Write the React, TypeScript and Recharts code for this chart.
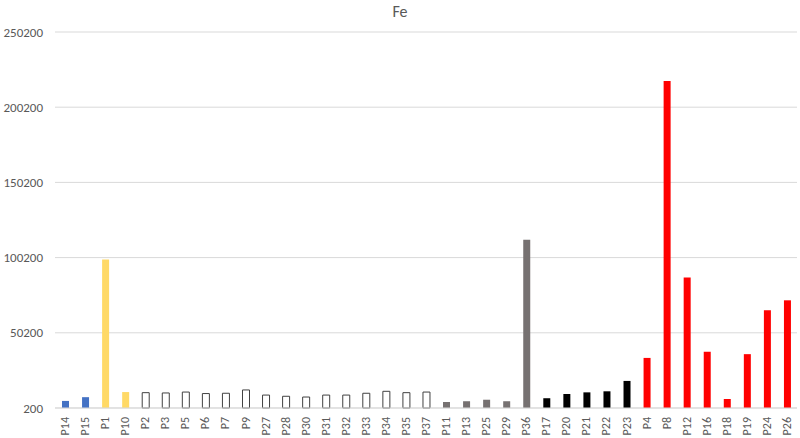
import { BarChart, Bar, XAxis, YAxis, CartesianGrid, Cell } from "recharts";

// ==========================================
// DATA
// ==========================================
const categories = [
  "P14", "P15", "P1", "P10", "P2", "P3", "P5", "P6", "P7", "P9",
  "P27", "P28", "P30", "P31", "P32", "P33", "P34", "P35", "P37",
  "P11", "P13", "P25", "P29", "P36",
  "P17", "P20", "P21", "P22", "P23",
  "P4", "P8", "P12", "P16", "P18", "P19", "P24", "P26",
];

const feValues = [
  4900, 7400, 99000, 10800, 10400, 10200, 10800, 9800, 10000, 12200,
  8800, 8000, 7500, 8800, 8800, 10000, 11300, 10400, 10800,
  4200, 4700, 5700, 4700, 112000,
  6700, 9500, 10600, 11300, 18200,
  33500, 217600, 87000, 37600, 6200, 36000, 65200, 71800,
];

const groups = [
  "blue", "blue", "yellow", "yellow",
  "outline", "outline", "outline", "outline", "outline", "outline",
  "outline", "outline", "outline", "outline", "outline", "outline", "outline", "outline", "outline",
  "gray", "gray", "gray", "gray", "gray",
  "black", "black", "black", "black", "black",
  "red", "red", "red", "red", "red", "red", "red", "red",
];

const yTicks = [200, 50200, 100200, 150200, 200200, 250200];

// ==========================================
// STYLES
// ==========================================
const groupFill: Record<string, string> = {
  blue: "#4472C4",
  yellow: "#FFD966",
  outline: "#FFFFFF",
  gray: "#767171",
  black: "#000000",
  red: "#FF0000",
};

const textColor = "#595959";
const gridColor = "#D9D9D9";
const fontFamily = "Carlito, 'Liberation Sans Narrow', 'Open Sans', sans-serif";

const chartData = categories.map((name, i) => ({
  name,
  value: feValues[i],
  group: groups[i],
}));

const XTick = (props: any) => {
  const { x, y, payload } = props;
  return (
    <text
      x={0}
      y={0}
      transform={`translate(${x + 4},${y + 1}) rotate(-90)`}
      textAnchor="end"
      fontSize={12}
      fill={textColor}
      fontFamily={fontFamily}
    >
      {payload.value}
    </text>
  );
};

export default function App() {
  return (
    <div
      style={{
        position: "absolute",
        left: 0,
        top: 0,
        width: 800,
        height: 438,
        background: "#fff",
        fontFamily,
      }}
    >
      <div
        style={{
          position: "absolute",
          top: 2,
          left: 0,
          width: 800,
          textAlign: "center",
          fontSize: 16,
          color: textColor,
        }}
      >
        Fe
      </div>
      <BarChart
        width={800}
        height={438}
        data={chartData}
        margin={{ top: 32, right: 3, left: 0, bottom: 0 }}
        barCategoryGap={0}
      >
        <CartesianGrid vertical={false} stroke={gridColor} />
        <XAxis
          dataKey="name"
          interval={0}
          height={30}
          tickLine={false}
          axisLine={{ stroke: gridColor }}
          tick={<XTick />}
        />
        <YAxis
          width={55}
          domain={[200, 250200]}
          ticks={yTicks}
          axisLine={false}
          tickLine={false}
          tickMargin={6}
          tick={{ fontSize: 13, fill: textColor, fontFamily }}
        />
        <Bar dataKey="value" barSize={7} isAnimationActive={false}>
          {chartData.map((d) => (
            <Cell
              key={d.name}
              fill={groupFill[d.group]}
              stroke={d.group === "outline" ? "#404040" : "none"}
              strokeWidth={d.group === "outline" ? 1 : 0}
            />
          ))}
        </Bar>
      </BarChart>
    </div>
  );
}
